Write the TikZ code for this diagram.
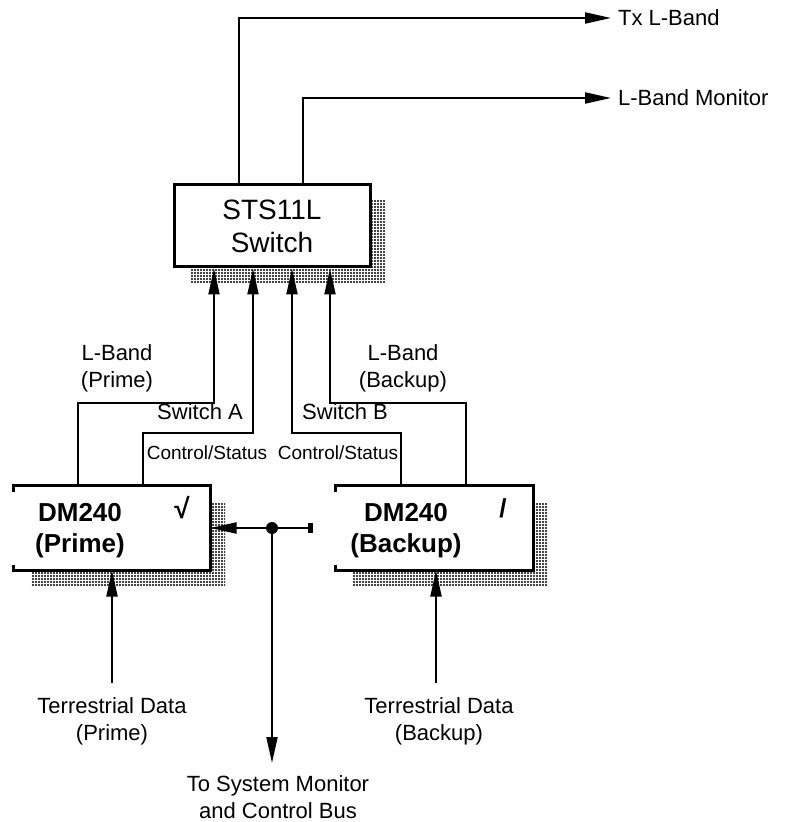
\documentclass[tikz,border=0pt]{standalone}
\usepackage{fontspec}
\setmainfont{Liberation Sans}
\usetikzlibrary{arrows.meta, positioning, shadows, patterns}
\pgfdeclarepatternformonly{finedots}{\pgfqpoint{-1pt}{-1pt}}{\pgfqpoint{1pt}{1pt}}{\pgfqpoint{1.5pt}{1.5pt}}{\pgfpathcircle{\pgfpointorigin}{0.6pt}\pgfusepath{fill}}
\tikzset{
	>={Triangle[length=13pt, width=5.5pt]}, % Puntas de flecha rellenas
	flow/.style={->, line width=1pt}, % Conectores con flecha
	wire/.style={line width=1pt}, % Conectores sin flecha
	box/.style={fill=white, line width=1.5pt, minimum height=41pt,
		drop shadow={shadow xshift=8pt, shadow yshift=-8pt, pattern=finedots, opacity=1}}, % Cajas con sombra
	lbl/.style={font=\fontsize{11}{13.5}\selectfont, align=center}, % Etiquetas
	small/.style={font=\fontsize{9.5}{11}\selectfont}, % Etiquetas chicas
	dm/.style={font=\bfseries\fontsize{13}{15.5}\selectfont, align=center}, % Texto de los DM240
	junction/.style={circle, fill, inner sep=0pt, minimum size=6pt} % Punto de union
}

\begin{document}
\begin{tikzpicture}[x=0.5pt, y=-0.5pt]
	\useasboundingbox (0,0) rectangle (788,822);
	% cajas
	\node[box, draw, minimum width=98pt, align=center, font=\fontsize{14}{16.5}\selectfont] (sw) at (272,226) {STS11L\\Switch};
	\node[box, minimum width=97pt] (prime) at (112,528) {};
	\node[box, minimum width=97.5pt] (backup) at (434.5,528) {};
	\draw[line width=1.5pt] ([yshift=-3pt]prime.north west) |- (prime.north east) |- (prime.south west) -- ++(0,3pt);
	\draw[line width=1.5pt] ([yshift=-3pt]backup.north west) |- (backup.north east) |- (backup.south west) -- ++(0,3pt);
	\node[dm] (primetxt) at (80,531) {DM240\\(Prime)};
	\node[dm] (backuptxt) at (406,531) {DM240\\(Backup)};
	\node[font=\bfseries\fontsize{14}{14}\selectfont] (primeok) at (182,508) {√};
	\node[font=\bfseries\fontsize{13}{13}\selectfont] (backupok) at (503,508) {/};
	% salidas
	\node[lbl, anchor=west] (tx) at (611,18) {Tx L-Band};
	\node[lbl, anchor=west] (lbmon) at (611,98) {L-Band Monitor};
	\draw[flow] ([xshift=-16.5pt]sw.north) |- (tx.west);
	\draw[flow] ([xshift=15.5pt]sw.north) |- (lbmon.west);
	% entradas al switch
	\node[lbl] (lbp) at (117,368) {L-Band\\(Prime)};
	\node[lbl] (lbb) at (403,368) {L-Band\\(Backup)};
	\node[lbl] (swa) at (200,412) {Switch A};
	\node[lbl] (swb) at (345,412) {Switch B};
	\node[small] (csa) at (207,453) {Control/Status};
	\node[small] (csb) at (338,453) {Control/Status};
	\draw[flow] ([xshift=-17pt]prime.north) -- ++(0,-82) -| ([xshift=-29pt]sw.south);
	\draw[flow] ([xshift=15.5pt]prime.north) -- ++(0,-53) -| ([xshift=-9.5pt]sw.south);
	\draw[flow] ([xshift=-16.75pt]backup.north) -- ++(0,-53) -| ([xshift=10pt]sw.south);
	\draw[flow] ([xshift=15.75pt]backup.north) -- ++(0,-82) -| ([xshift=29pt]sw.south);
	% bus de monitoreo
	\node[junction] (bus) at (272,528) {};
	\coordinate (busend) at (313,528);
	\coordinate (sysin) at (272,763);
	\node[lbl] (sys) at (278,797) {To System Monitor\\and Control Bus};
	\draw[flow] (bus) -- (prime.east);
	\draw[wire, -{Rectangle[length=2.5pt, width=5pt]}] (bus) -- (busend);
	\draw[flow] (bus) -- (sysin);
	% datos terrestres
	\node[lbl] (tdp) at (112,721) {Terrestrial Data\\(Prime)};
	\node[lbl] (tdb) at (439,721) {Terrestrial Data\\(Backup)};
	\coordinate (tdpin) at (112,683);
	\coordinate (tdbin) at (436,683);
	\draw[flow] (tdpin) -- (prime.south);
	\draw[flow] (tdbin) -- (tdbin |- backup.south);
\end{tikzpicture}
\end{document}
